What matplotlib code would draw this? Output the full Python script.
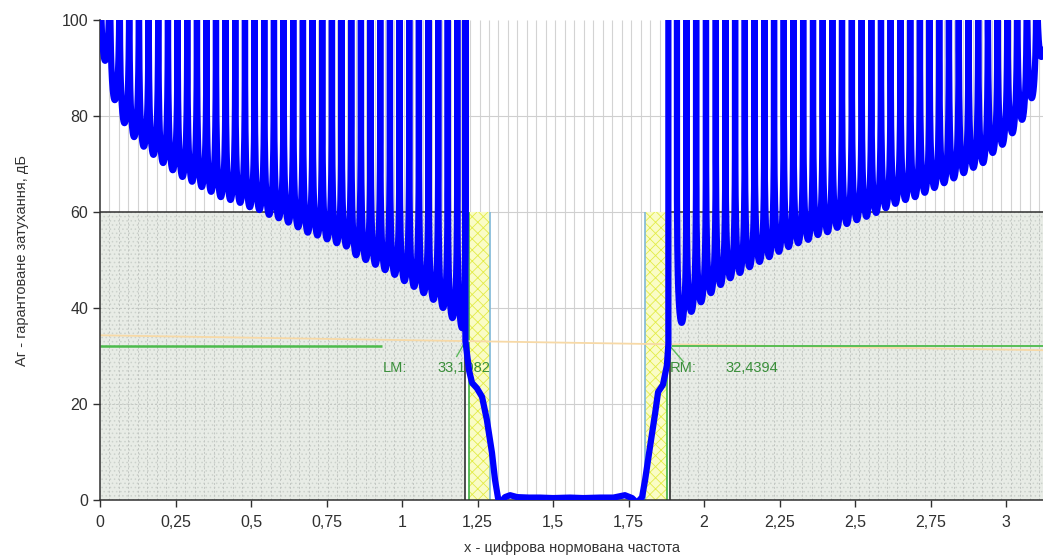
import numpy as np
import matplotlib.pyplot as plt
from matplotlib.patches import Rectangle
from matplotlib.ticker import FuncFormatter, MultipleLocator

plt.rcParams['font.family'] = ['Liberation Sans', 'DejaVu Sans']
plt.rcParams['hatch.linewidth'] = 0.6

# lobe minima of the stopbands (x, dB)
left_x = [0.017, 0.049, 0.081, 0.113, 0.145, 0.177, 0.209, 0.241, 0.273, 0.305,
          0.337, 0.368, 0.400, 0.432, 0.464, 0.496, 0.528, 0.560, 0.592, 0.624,
          0.656, 0.688, 0.720, 0.752, 0.784, 0.816, 0.848, 0.880, 0.912, 0.944,
          0.976, 1.008, 1.040, 1.072, 1.104, 1.136, 1.167, 1.199]
left_min = [91.5, 83.3, 78.5, 75.6, 73.6, 71.9, 70.2, 68.7, 67.3, 66.3,
            65.2, 64.2, 63.1, 62.5, 61.9, 61.0, 60.4, 59.4, 58.7, 57.8,
            56.8, 55.7, 55.1, 54.3, 53.5, 52.8, 51.0, 50.0, 49.0, 47.9,
            46.9, 45.6, 44.4, 43.1, 41.7, 40.0, 37.9, 35.8]

right_x = [1.926, 1.958, 1.990, 2.023, 2.055, 2.087, 2.119, 2.151, 2.184, 2.216,
           2.248, 2.280, 2.312, 2.345, 2.377, 2.409, 2.441, 2.473, 2.506, 2.538,
           2.570, 2.602, 2.634, 2.667, 2.699, 2.731, 2.763, 2.795, 2.827, 2.860,
           2.892, 2.924, 2.956, 2.988, 3.021, 3.053, 3.085, 3.117]
right_min = [36.9, 39.2, 41.2, 43.1, 44.8, 46.2, 47.3, 48.5, 49.6, 50.6,
             51.7, 52.7, 53.5, 54.2, 55.2, 55.8, 56.7, 57.5, 58.3, 59.0,
             59.8, 60.8, 61.7, 62.5, 63.1, 64.0, 65.0, 66.0, 67.0, 68.1,
             69.2, 70.2, 72.3, 74.0, 76.4, 79.2, 83.7, 92.3]

# markers at the stopband edges
lm_x, lm_y = 1.210, 33.1082
rm_x, rm_y = 1.882, 32.4394

# transition + passband part of the curve
pass_x = [1.210, 1.222, 1.232, 1.248, 1.265, 1.281, 1.298, 1.308, 1.318, 1.326,
          1.341, 1.358, 1.381, 1.420, 1.457, 1.500, 1.556, 1.600, 1.656, 1.700,
          1.738, 1.762, 1.778, 1.795, 1.805, 1.821, 1.838, 1.848, 1.864, 1.877, 1.882]
pass_y = [33.11, 27.0, 24.4, 23.3, 21.5, 16.7, 9.8, 4.2, 0.4, -0.6,
          0.6, 1.0, 0.6, 0.5, 0.5, 0.4, 0.5, 0.4, 0.5, 0.5,
          1.0, 0.4, -0.6, 0.6, 4.2, 11.0, 18.0, 22.5, 24.0, 28.0, 32.44]

# band edges and limits
stop_left, stop_right = 1.209, 1.886
pass_left, pass_right = 1.290, 1.805
green_left, green_right = 1.222, 1.877
req_level = 60
green_level = 32.0
xmax = 3.1225


def stopband(centers, minima, x_from=None, x_to=None):
    # each lobe is drawn between two zeros, with its minimum at the read value
    c = np.asarray(centers)
    half = np.diff(c) / 2
    edges = np.concatenate([[c[0] - half[0]], c[:-1] + half, [c[-1] + half[-1]]])
    if x_from is not None:
        edges[0] = max(edges[0], x_from)
    if x_to is not None:
        edges[-1] = min(edges[-1], x_to)
    xs, ys = [], []
    for a, ci, b, mi in zip(edges[:-1], c, edges[1:], minima):
        t = np.linspace(-0.5, 0.5, 61)
        x = np.where(t < 0, ci + 2 * t * (ci - a), ci + 2 * t * (b - ci))
        y = mi - 20 * np.log10(np.maximum(np.cos(np.pi * t), 1e-6))
        xs.append(x)
        ys.append(np.minimum(y, 160))
    return np.concatenate(xs), np.concatenate(ys)


lx, ly = stopband(left_x, left_min, x_from=0, x_to=lm_x)
rx, ry = stopband(right_x, right_min, x_from=rm_x)
curve_x = np.concatenate([lx, pass_x, [rm_x], rx])
curve_y = np.concatenate([ly, pass_y, [160], ry])

fig = plt.figure(figsize=(10.43, 5.57), dpi=100)
ax = fig.add_axes([100 / 1043, 57 / 557, 943 / 1043, 480 / 557])
ax.set_xlim(0, xmax)
ax.set_ylim(0, 100)

# grid
grid_x = np.arange(1, 100) * np.pi / 100
ax.vlines(grid_x, 0, 100, color='#d3d3d3', lw=0.8, zorder=0.5)
for y in [20, 40, 60, 80]:
    ax.axhline(y, color='#cfcfcf', lw=0.8, zorder=0.5)

# stopband requirement areas
for x0, x1 in [(0, stop_left), (stop_right, xmax)]:
    ax.add_patch(Rectangle((x0, 0), x1 - x0, req_level, facecolor='#e8ece6',
                           edgecolor='#ccd2cc', hatch='....', lw=0, zorder=0.6))
    gx = grid_x[(grid_x > x0) & (grid_x < x1)]
    ax.vlines(gx, 0, req_level, color='#c2c6c2', lw=0.7, linestyles=(0, (2, 2)), zorder=0.7)
    for y in [20, 40]:
        ax.hlines(y, x0, x1, color='#c2c6c2', lw=0.7, linestyles=(0, (2, 2)), zorder=0.7)
    ax.hlines(req_level, x0, x1, color='#303030', lw=1.1, zorder=1.2)

# transition bands
for x0, x1 in [(green_left, pass_left), (pass_right, green_right)]:
    ax.add_patch(Rectangle((x0, 0), x1 - x0, req_level, facecolor='#fafcc6',
                           edgecolor='#e2ec48', hatch='xxx', lw=0, zorder=0.8))

ax.vlines([stop_left, stop_right], 0, req_level, color='#303030', lw=1.2, zorder=1.2)
ax.vlines([green_left, green_right], 0, req_level, color='#3cb043', lw=1.2, zorder=1.1)
ax.vlines([pass_left, pass_right], 0, req_level, color='#7fb8d8', lw=1.2, zorder=1.1)

# line through both markers
ax.axline((lm_x, lm_y), (rm_x, rm_y), color='#f7d9a6', lw=1.3, zorder=1.5)

# green level lines
ax.hlines(green_level, 0, 0.934, color='#4cbb4c', lw=1.8, zorder=2)
ax.hlines(green_level, 1.895, xmax, color='#4cbb4c', lw=1.3, zorder=2)

# marker labels
tc = '#3a8f3a'
ax.text(0.937, 27.5, 'LM:', color=tc, fontsize=10.5, va='center', zorder=2.5)
ax.text(1.116, 27.5, f'{lm_y:.4f}'.replace('.', ','), color=tc, fontsize=10.5,
        va='center', zorder=2.5)
ax.text(1.887, 27.5, 'RM:', color=tc, fontsize=10.5, va='center', zorder=2.5)
ax.text(2.07, 27.5, f'{rm_y:.4f}'.replace('.', ','), color=tc, fontsize=10.5,
        va='center', zorder=2.5)
ax.plot([lm_x, 1.181], [lm_y, 29.9], color='#5cb85c', lw=1.0, zorder=2.5)
ax.plot([rm_x, 1.932], [rm_y, 28.8], color='#5cb85c', lw=1.0, zorder=2.5)

# attenuation curve
ax.plot(curve_x, curve_y, color='#0000ff', lw=4.5, solid_joinstyle='round',
        solid_capstyle='round', zorder=3)

ax.xaxis.set_major_locator(MultipleLocator(0.25))
ax.yaxis.set_major_locator(MultipleLocator(20))
fmt = FuncFormatter(lambda v, p: f'{v:g}'.replace('.', ','))
ax.xaxis.set_major_formatter(fmt)
ax.yaxis.set_major_formatter(fmt)
ax.tick_params(labelsize=11.5, colors='#303030', length=5, width=1)
ax.tick_params(axis='x', pad=6)
for s in ['top', 'right']:
    ax.spines[s].set_visible(False)
for s in ['left', 'bottom']:
    ax.spines[s].set_color('#303030')
    ax.spines[s].set_linewidth(1.1)

ax.set_xlabel('x - цифрова нормована частота', fontsize=10.5, color='#333333')
ax.xaxis.set_label_coords(0.5, -0.085)
ax.set_ylabel('Аг - гарантоване затухання, дБ', fontsize=10.5, color='#333333')
ax.yaxis.set_label_coords(-0.075, 0.5)

fig.savefig('out.png', dpi=100)
